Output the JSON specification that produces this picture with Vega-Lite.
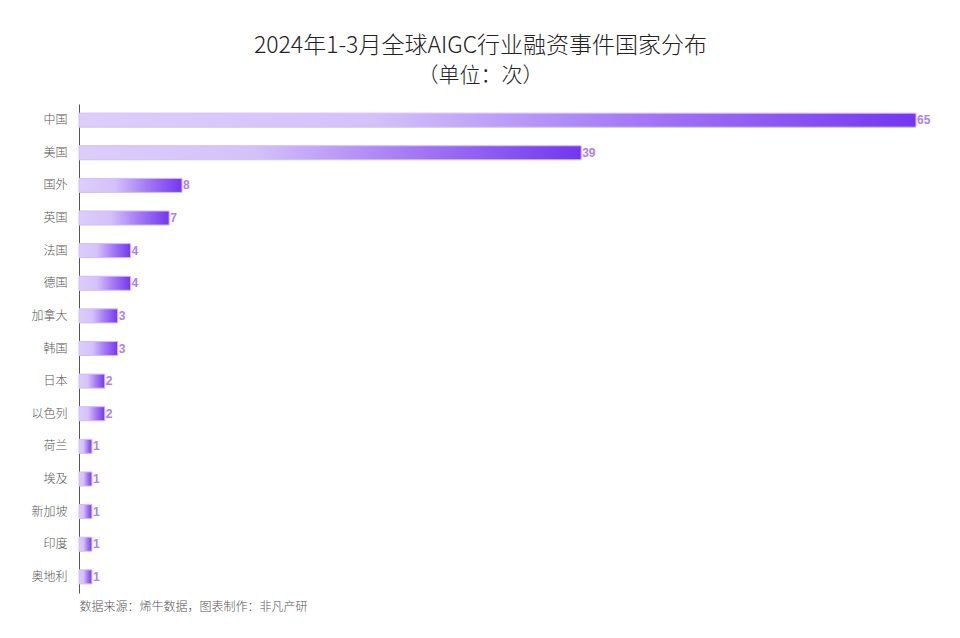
{
  "$schema": "https://vega.github.io/schema/vega-lite/v6.json",
  "width": 837,
  "height": 489,
  "autosize": "none",
  "padding": {"left": 79, "top": 104, "right": 44, "bottom": 45},
  "background": "white",
  "title": {
    "text": "2024年1-3月全球AIGC行业融资事件国家分布",
    "subtitle": "（单位：次）",
    "font": "Noto Sans CJK SC",
    "fontSize": 23,
    "fontWeight": 300,
    "color": "#222222",
    "subtitleFont": "Noto Sans CJK SC",
    "subtitleFontSize": 21,
    "subtitleFontWeight": 300,
    "subtitleColor": "#222222",
    "subtitlePadding": 7,
    "anchor": "middle",
    "dx": -17,
    "offset": 18
  },
  "data": {
    "values": [
      {"country": "中国", "count": 65},
      {"country": "美国", "count": 39},
      {"country": "国外", "count": 8},
      {"country": "英国", "count": 7},
      {"country": "法国", "count": 4},
      {"country": "德国", "count": 4},
      {"country": "加拿大", "count": 3},
      {"country": "韩国", "count": 3},
      {"country": "日本", "count": 2},
      {"country": "以色列", "count": 2},
      {"country": "荷兰", "count": 1},
      {"country": "埃及", "count": 1},
      {"country": "新加坡", "count": 1},
      {"country": "印度", "count": 1},
      {"country": "奥地利", "count": 1}
    ]
  },
  "encoding": {
    "y": {
      "field": "country",
      "type": "nominal",
      "sort": null,
      "scale": {"paddingInner": 0.57, "paddingOuter": 0.28},
      "axis": {
        "title": null,
        "ticks": false,
        "domain": true,
        "domainColor": "#555555",
        "domainWidth": 1,
        "labelFont": "Noto Sans CJK SC",
        "labelFontSize": 12,
        "labelFontWeight": 300,
        "labelColor": "#555555",
        "labelPadding": 12
      }
    },
    "x": {
      "field": "count",
      "type": "quantitative",
      "scale": {"domain": [0, 65], "nice": false},
      "axis": {
        "title": "数据来源：烯牛数据，图表制作：非凡产研",
        "titleAnchor": "start",
        "titleFont": "Noto Sans CJK SC",
        "titleFontSize": 12,
        "titleFontWeight": 300,
        "titleColor": "#555555",
        "titleBaseline": "top",
        "titlePadding": 8,
        "labels": false,
        "ticks": false,
        "domain": false,
        "grid": false
      }
    }
  },
  "layer": [
    {
      "mark": {
        "type": "bar",
        "stroke": "#d2bcfb",
        "strokeWidth": 1,
        "color": {
          "gradient": "linear",
          "x1": 0, "y1": 0, "x2": 1, "y2": 0,
          "stops": [
            {"offset": 0, "color": "#dccdfb"},
            {"offset": 0.35, "color": "#d4c1fa"},
            {"offset": 0.65, "color": "#a67cf5"},
            {"offset": 1, "color": "#7436f0"}
          ]
        }
      }
    },
    {
      "mark": {
        "type": "text",
        "align": "left",
        "baseline": "middle",
        "dx": 1,
        "font": "Liberation Sans",
        "fontSize": 12,
        "fontWeight": "bold",
        "color": "#a982f5"
      },
      "encoding": {
        "text": {"field": "count", "type": "quantitative"}
      }
    }
  ],
  "config": {
    "view": {"stroke": null}
  }
}
